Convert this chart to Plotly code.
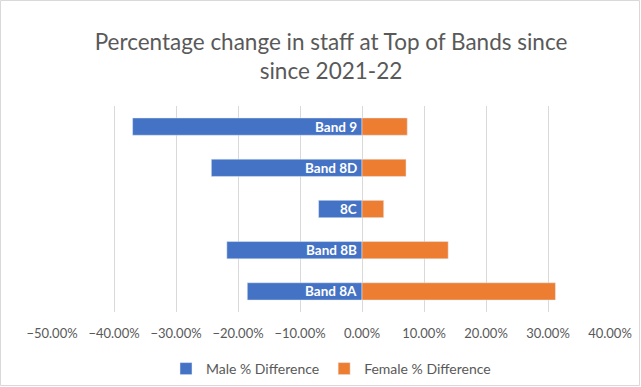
import plotly.graph_objects as go

categories = ["Band 8A", "Band 8B", "8C", "Band 8D", "Band 9"]
male_pct = [-0.185, -0.218, -0.070, -0.243, -0.370]
female_pct = [0.312, 0.139, 0.035, 0.071, 0.073]
tick_vals = [-0.5, -0.4, -0.3, -0.2, -0.1, 0.0, 0.1, 0.2, 0.3, 0.4]

W, H = 641, 387
L, R, T, B = 52, 31, 106, 75

fig = go.Figure()
fig.add_trace(go.Bar(y=categories, x=male_pct, orientation="h", name="Male % Difference",
                     marker=dict(color="#4472C4"), hoverinfo="x+y"))
fig.add_trace(go.Bar(y=categories, x=female_pct, orientation="h", name="Female % Difference",
                     marker=dict(color="#ED7D31"), hoverinfo="x+y"))

for c in categories:
    fig.add_annotation(x=0, y=c, xref="x", yref="y", text="<b>%s</b>" % c, showarrow=False,
                       xanchor="right", xshift=-3, font=dict(color="white", size=13.5, family="Lato"))

pw = W - L - R
ph = H - T - B
fig.add_shape(type="rect", xref="paper", yref="paper",
              x0=(-L + 0.5) / pw, x1=(pw + R - 1.5) / pw,
              y0=(-B + 1.5) / ph, y1=(ph + T - 0.5) / ph,
              line=dict(color="#D9D9D9", width=1), fillcolor="rgba(0,0,0,0)", layer="below")

fig.update_layout(
    width=W, height=H,
    margin=dict(l=L, r=R, t=T, b=B, autoexpand=False),
    paper_bgcolor="white", plot_bgcolor="white",
    barmode="relative", bargap=0.58,
    font=dict(family="Lato", color="#595959", size=12),
    title=dict(text="Percentage change in staff at Top of Bands since<br>since 2021-22",
               x=0.5, xanchor="center", xref="paper", y=1 - 50 / H, yanchor="middle",
               font=dict(size=22.5, color="#595959", family="Lato")),
    xaxis=dict(range=[-0.5, 0.4], tickvals=tick_vals, tickformat=".2%",
               showgrid=True, gridcolor="#D9D9D9", gridwidth=1, zeroline=True,
               zerolinecolor="#D9D9D9", zerolinewidth=1, showline=False, ticks="",
               tickfont=dict(size=13, color="#595959"), ticklabelstandoff=12),
    yaxis=dict(showticklabels=False, showgrid=False, showline=False, ticks=""),
    legend=dict(orientation="h", x=0.5, xanchor="center", yref="container", y=18 / H,
                yanchor="middle", font=dict(size=14, color="#595959"), itemwidth=30,
                tracegroupgap=20),
    showlegend=True,
)

fig.write_html("out.html")
